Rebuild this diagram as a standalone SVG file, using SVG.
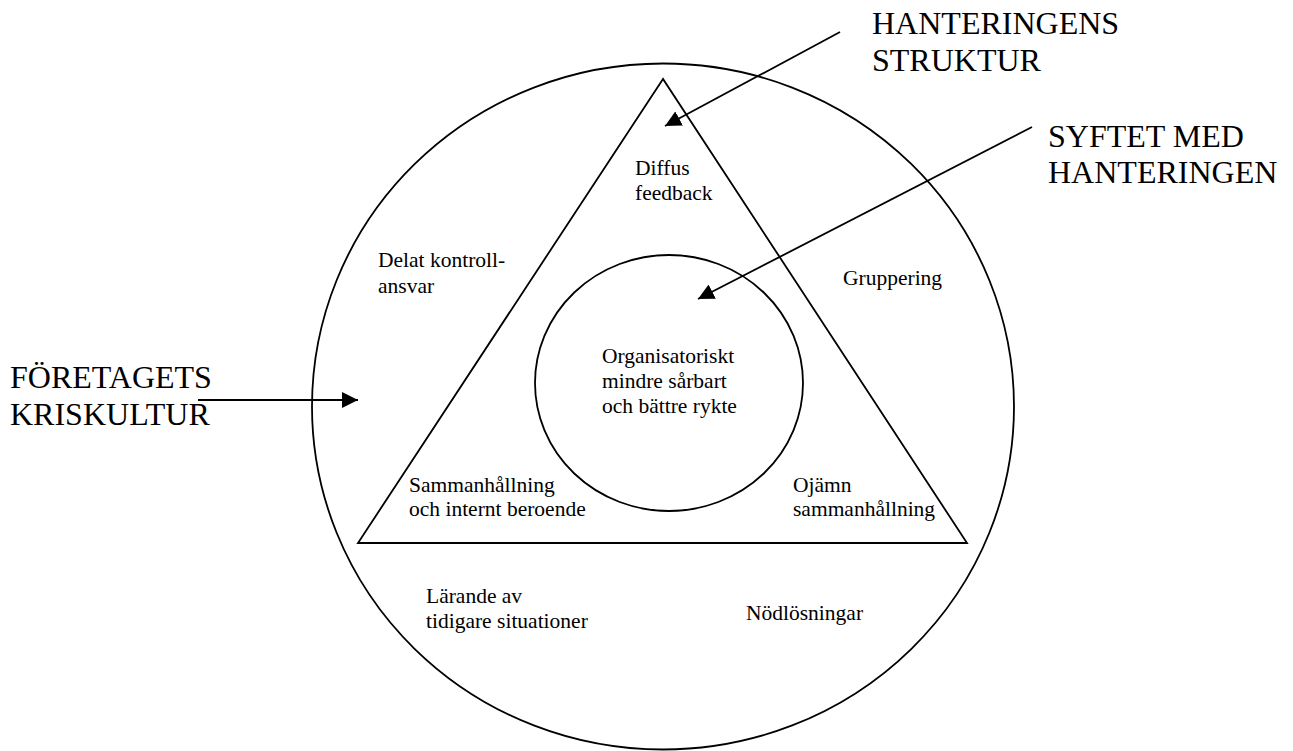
<svg xmlns="http://www.w3.org/2000/svg" width="1293" height="751" viewBox="0 0 1293 751">
<style>
.s{fill:none;stroke:#000;stroke-width:1.8}
.c{stroke:#000;stroke-width:1.8;fill:none}
text{font-family:'Liberation Serif','Times New Roman',Times,'DejaVu Serif',serif;fill:#000}
.t{font-size:21.5px}
.b{font-size:32px}
</style>
<defs>
<marker id="ah" viewBox="0 0 16 16" refX="16" refY="8" markerWidth="16" markerHeight="16" markerUnits="userSpaceOnUse" orient="auto">
<path d="M0,0 L16,8 L0,16 Z" fill="#000"/>
</marker>
</defs>
<rect width="1293" height="751" fill="#fff"/>
<g id="outer-circle"><ellipse class="s" cx="663" cy="406.5" rx="351" ry="343"/></g>
<g id="triangle"><polygon class="s" points="663,79 358,543 967,543"/></g>
<g id="inner-circle"><ellipse class="s" cx="669" cy="383" rx="134" ry="128"/></g>
<g id="connectors">
<line class="c" x1="198" y1="400" x2="358" y2="400" marker-end="url(#ah)"/>
<line class="c" x1="840" y1="32" x2="665" y2="126" marker-end="url(#ah)"/>
<line class="c" x1="1032" y1="127" x2="698" y2="299" marker-end="url(#ah)"/>
</g>
<g id="label-foretagets"><text class="b" x="10" y="388">FÖRETAGETS</text><text class="b" x="10" y="425">KRISKULTUR</text></g>
<g id="label-hanteringens"><text class="b" x="872" y="34">HANTERINGENS</text><text class="b" x="872" y="71">STRUKTUR</text></g>
<g id="label-syftet"><text class="b" x="1048" y="147">SYFTET MED</text><text class="b" x="1048" y="183">HANTERINGEN</text></g>
<g id="text-diffus"><text class="t" x="635" y="175">Diffus</text><text class="t" x="635" y="200">feedback</text></g>
<g id="text-delat"><text class="t" x="378" y="267">Delat kontroll-</text><text class="t" x="378" y="293">ansvar</text></g>
<g id="text-gruppering"><text class="t" x="843" y="285">Gruppering</text></g>
<g id="text-org"><text class="t" x="602" y="363">Organisatoriskt</text><text class="t" x="602" y="388">mindre sårbart</text><text class="t" x="602" y="413">och bättre rykte</text></g>
<g id="text-samman"><text class="t" x="409" y="492">Sammanhållning</text><text class="t" x="409" y="516">och internt beroende</text></g>
<g id="text-ojamn"><text class="t" x="793" y="492">Ojämn</text><text class="t" x="793" y="516">sammanhållning</text></g>
<g id="text-larande"><text class="t" x="426" y="603">Lärande av</text><text class="t" x="426" y="628">tidigare situationer</text></g>
<g id="text-nod"><text class="t" x="746" y="620">Nödlösningar</text></g>
</svg>
